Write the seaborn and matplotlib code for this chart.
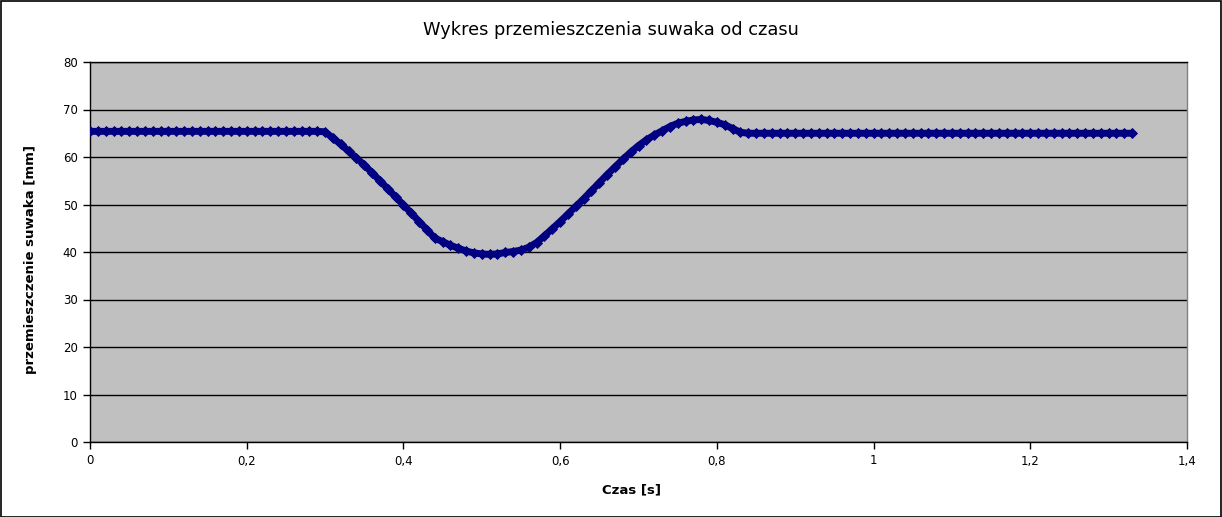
import matplotlib
matplotlib.use("Agg")
import matplotlib.pyplot as plt
import matplotlib.patches as patches
from matplotlib.ticker import FuncFormatter, MultipleLocator
import seaborn as sns
import pandas as pd

# ---- data ----
time_s = [
    0.00, 0.01, 0.02, 0.03, 0.04, 0.05, 0.06, 0.07, 0.08, 0.09,
    0.10, 0.11, 0.12, 0.13, 0.14, 0.15, 0.16, 0.17, 0.18, 0.19,
    0.20, 0.21, 0.22, 0.23, 0.24, 0.25, 0.26, 0.27, 0.28, 0.29,
    0.30, 0.31, 0.32, 0.33, 0.34, 0.35, 0.36, 0.37, 0.38, 0.39,
    0.40, 0.41, 0.42, 0.43, 0.44, 0.45, 0.46, 0.47, 0.48, 0.49,
    0.50, 0.51, 0.52, 0.53, 0.54, 0.55, 0.56, 0.57, 0.58, 0.59,
    0.60, 0.61, 0.62, 0.63, 0.64, 0.65, 0.66, 0.67, 0.68, 0.69,
    0.70, 0.71, 0.72, 0.73, 0.74, 0.75, 0.76, 0.77, 0.78, 0.79,
    0.80, 0.81, 0.82, 0.83, 0.84, 0.85, 0.86, 0.87, 0.88, 0.89,
    0.90, 0.91, 0.92, 0.93, 0.94, 0.95, 0.96, 0.97, 0.98, 0.99,
    1.00, 1.01, 1.02, 1.03, 1.04, 1.05, 1.06, 1.07, 1.08, 1.09,
    1.10, 1.11, 1.12, 1.13, 1.14, 1.15, 1.16, 1.17, 1.18, 1.19,
    1.20, 1.21, 1.22, 1.23, 1.24, 1.25, 1.26, 1.27, 1.28, 1.29,
    1.30, 1.31, 1.32, 1.33,
]
displacement_mm = [
    65.4, 65.4, 65.4, 65.4, 65.4, 65.4, 65.4, 65.4, 65.4, 65.4,
    65.4, 65.4, 65.4, 65.4, 65.4, 65.4, 65.4, 65.4, 65.4, 65.4,
    65.4, 65.4, 65.4, 65.4, 65.4, 65.4, 65.4, 65.4, 65.4, 65.4,
    65.3, 64.0, 62.7, 61.2, 59.8, 58.3, 56.7, 55.0, 53.3, 51.6,
    49.9, 48.2, 46.4, 44.7, 42.9, 42.2, 41.4, 40.8, 40.2, 39.8,
    39.6, 39.5, 39.6, 39.9, 40.1, 40.4, 41.0, 42.0, 43.4, 44.9,
    46.4, 48.0, 49.6, 51.2, 52.9, 54.6, 56.3, 57.9, 59.5, 61.0,
    62.4, 63.6, 64.6, 65.5, 66.4, 67.1, 67.5, 67.8, 67.9, 67.7,
    67.3, 66.8, 66.0, 65.2, 65.0, 65.0, 65.0, 65.0, 65.0, 65.0,
    65.0, 65.0, 65.0, 65.0, 65.0, 65.0, 65.0, 65.0, 65.0, 65.0,
    65.0, 65.0, 65.0, 65.0, 65.0, 65.0, 65.0, 65.0, 65.0, 65.0,
    65.0, 65.0, 65.0, 65.0, 65.0, 65.0, 65.0, 65.0, 65.0, 65.0,
    65.0, 65.0, 65.0, 65.0, 65.0, 65.0, 65.0, 65.0, 65.0, 65.0,
    65.0, 65.0, 65.0, 65.0,
]
title_text = "Wykres przemieszczenia suwaka od czasu"
x_label = "Czas [s]"
y_label = "przemieszczenie suwaka [mm]"

df = pd.DataFrame({"t": time_s, "s": displacement_mm})

sns.set_style("white")
plt.rcParams["font.family"] = ["DejaVu Sans"]
plt.rcParams["text.color"] = "black"
plt.rcParams["axes.labelcolor"] = "black"

W, H = 1222, 517
fig = plt.figure(figsize=(W / 100, H / 100), dpi=100)
ax = fig.add_axes([90 / W, (H - 442) / H, (1187 - 90) / W, (442 - 62) / H])
ax.set_facecolor("#C0C0C0")

sns.lineplot(data=df, x="t", y="s", ax=ax, color="#000080", linewidth=5.0,
             marker="D", markersize=5.2, markeredgecolor="#000080",
             markeredgewidth=0.6, zorder=3)

ax.set_xlim(0, 1.4)
ax.set_ylim(0, 80)
ax.xaxis.set_major_locator(MultipleLocator(0.2))
ax.yaxis.set_major_locator(MultipleLocator(10))

def comma_fmt(v, pos):
    s = f"{v:.1f}".rstrip("0").rstrip(".")
    return s.replace(".", ",")

ax.xaxis.set_major_formatter(FuncFormatter(comma_fmt))
ax.yaxis.set_major_formatter(FuncFormatter(lambda v, p: f"{int(round(v))}"))

ax.yaxis.grid(True, color="black", linewidth=1.0)
ax.xaxis.grid(False)
ax.set_axisbelow(True)

for side in ["left", "bottom", "top"]:
    ax.spines[side].set_color("black")
    ax.spines[side].set_linewidth(1.0)
ax.spines["right"].set_color("#808080")
ax.spines["right"].set_linewidth(1.0)

ax.tick_params(axis="both", direction="out", length=5, width=1, color="black",
               labelsize=8.5, labelcolor="black", pad=4,
               bottom=True, left=True)

ax.set_xlabel(x_label, fontsize=9.5, fontweight="bold", color="black")
ax.set_ylabel(y_label, fontsize=9.5, fontweight="bold", color="black")
ax.xaxis.set_label_coords((631 - 90) / 1097, (442 - 483) / 380)
ax.yaxis.set_label_coords((37 - 90) / 1097, (442 - 260) / 380)

fig.text(611 / W, 1 - 30 / H, title_text, ha="center", va="center",
         fontsize=12.8, color="black")

fig.add_artist(patches.Rectangle((0.5 / W, 0.5 / H), 1 - 1.5 / W, 1 - 1.5 / H,
                                 transform=fig.transFigure, fill=False,
                                 edgecolor="black", linewidth=1.2))

fig.savefig("out.png", dpi=100)
